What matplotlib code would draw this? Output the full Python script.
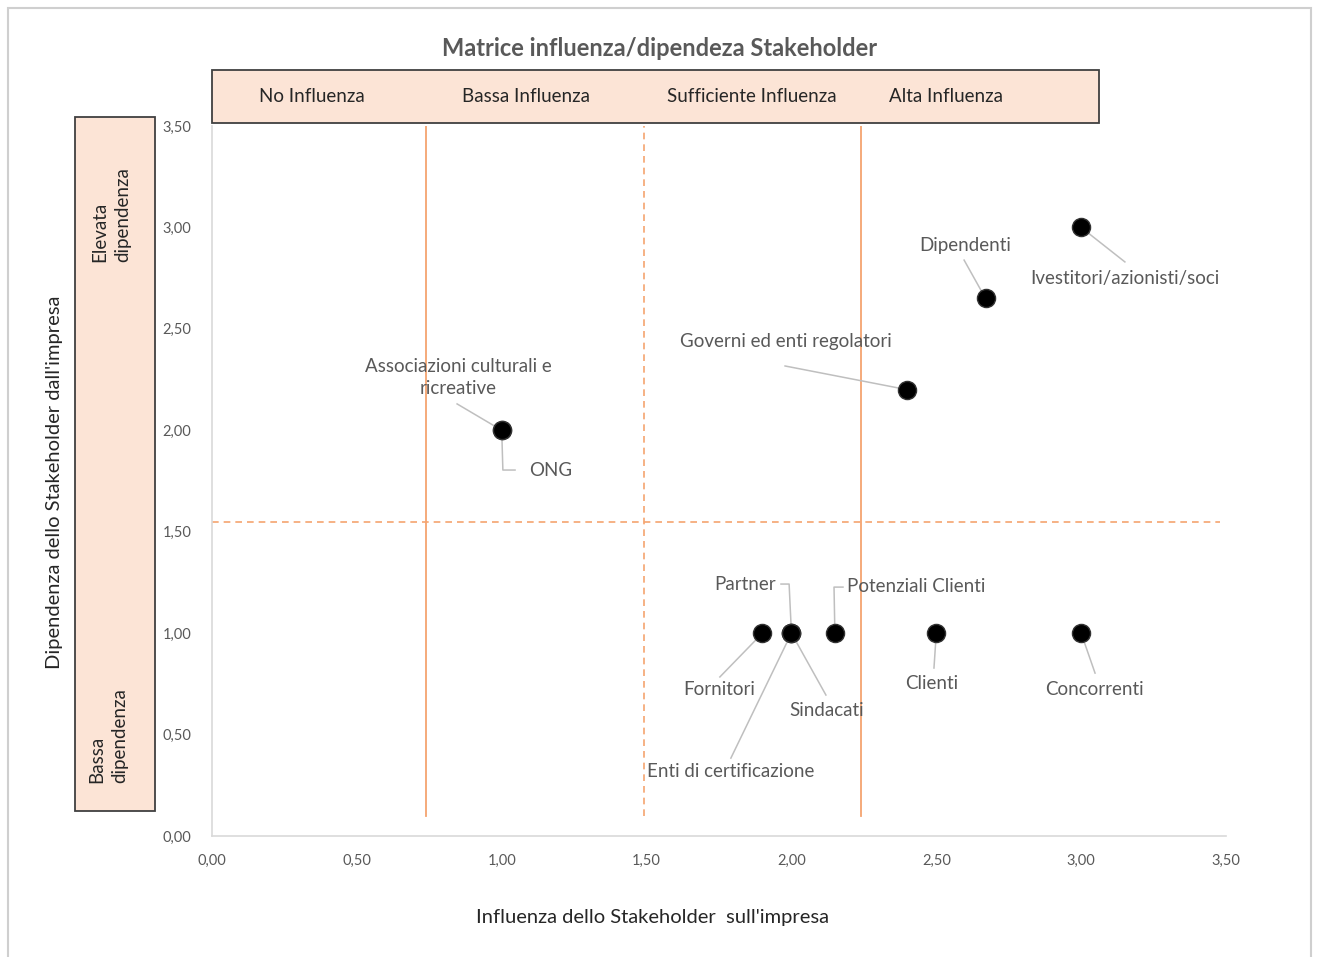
import matplotlib.pyplot as plt
from matplotlib.patches import Rectangle
from matplotlib.ticker import FuncFormatter, MultipleLocator

plt.rcParams['font.family'] = ['Lato', 'DejaVu Sans']

# stakeholder positions: influence (x) and dependence (y)
names = ["Associazioni culturali e\nricreative", "ONG", "Governi ed enti regolatori",
         "Dipendenti", "Ivestitori/azionisti/soci", "Fornitori", "Partner",
         "Sindacati", "Enti di certificazione", "Potenziali Clienti", "Clienti",
         "Concorrenti"]
influenza = [1.00, 1.00, 2.40, 2.67, 3.00, 1.90, 2.00, 2.00, 2.00, 2.15, 2.50, 3.00]
dipendenza = [2.00, 2.00, 2.20, 2.65, 3.00, 1.00, 1.00, 1.00, 1.00, 1.00, 1.00, 1.00]

# label placement (text position, leader start, optional elbow)
label_xy = [(0.85, 2.26), (1.17, 1.80), (1.98, 2.44), (2.60, 2.91), (3.15, 2.75),
            (1.75, 0.72), (1.84, 1.24), (2.12, 0.62), (1.79, 0.32), (2.43, 1.23),
            (2.485, 0.75), (3.045, 0.72)]
leader_xy = [[(0.846, 2.13)], [(1.046, 1.804), (1.004, 1.804)], [(1.978, 2.317)],
             [(2.596, 2.839)], [(3.151, 2.83)], [(1.753, 0.784)],
             [(1.964, 1.242), (1.992, 1.242)], [(2.119, 0.695)], [(1.791, 0.384)],
             [(2.178, 1.227), (2.147, 1.227)], [(2.492, 0.828)], [(3.048, 0.803)]]

col_labels = ["No Influenza", "Bassa Influenza", "Sufficiente Influenza", "Alta Influenza"]
col_label_px = [312, 526, 752, 946]
row_labels = ["Elevata\ndipendenza", "Bassa\ndipendenza"]

soglie_x_solid = [0.74, 2.24]
soglia_x_dash = 1.49
soglia_y_dash = 1.55

W, H = 1318, 957
orange = '#F5A46F'
gray_txt = '#595959'

fig = plt.figure(figsize=(W / 100, H / 100), dpi=100)

# outer frame
fig.patches.append(Rectangle((8 / W, -0.01), 1303 / W, 1 - 8 / H + 0.01, transform=fig.transFigure,
                             fill=False, edgecolor='#cfcfcf', linewidth=1.5, zorder=0))

ax = fig.add_axes([212 / W, 1 - 836 / H, 1014 / W, 710 / H])
ax.set_xlim(0, 3.5)
ax.set_ylim(0, 3.5)
for s in ['top', 'right']:
    ax.spines[s].set_visible(False)
for s in ['left', 'bottom']:
    ax.spines[s].set_color('#D9D9D9')
    ax.spines[s].set_linewidth(1.2)
ax.xaxis.set_major_locator(MultipleLocator(0.5))
ax.yaxis.set_major_locator(MultipleLocator(0.5))
fmt = FuncFormatter(lambda v, p: f"{v:.2f}".replace('.', ','))
ax.xaxis.set_major_formatter(fmt)
ax.yaxis.set_major_formatter(fmt)
ax.tick_params(length=0, labelsize=10.5, labelcolor=gray_txt)
ax.tick_params(axis='x', pad=13)
ax.tick_params(axis='y', pad=15)

# quadrant separators
for xv in soglie_x_solid:
    ax.plot([xv, xv], [0.1, 3.5], color=orange, lw=1.3, zorder=1)
ax.plot([soglia_x_dash, soglia_x_dash], [0.1, 3.5], color=orange, lw=1.2, ls=(0, (4, 3)), zorder=1)
ax.plot([0, 3.48], [soglia_y_dash, soglia_y_dash], color=orange, lw=1.2, ls=(0, (4, 3)), zorder=1)

# leader lines and labels
for name, x, y, (tx, ty), path in zip(names, influenza, dipendenza, label_xy, leader_xy):
    pts = path + [(x, y)]
    ax.plot([p[0] for p in pts], [p[1] for p in pts], color='#BFBFBF', lw=1.1, zorder=2)
    ax.text(tx, ty, name, ha='center', va='center', fontsize=13.5, color=gray_txt,
            linespacing=1.35, zorder=4)

ax.scatter(influenza, dipendenza, s=170, color='black', edgecolor='#333333', zorder=3)

# header band with influence classes
fig.patches.append(Rectangle((212 / W, 1 - 123 / H), 887 / W, 53 / H, transform=fig.transFigure,
                             facecolor='#FCE4D6', edgecolor='#404040', linewidth=1.3))
for lab, px in zip(col_labels, col_label_px):
    fig.text(px / W, 1 - 97 / H, lab, ha='center', va='center', fontsize=13.5, color='#262626')

# side band with dependence classes
fig.patches.append(Rectangle((75 / W, 1 - 811 / H), 80 / W, 694 / H, transform=fig.transFigure,
                             facecolor='#FCE4D6', edgecolor='#404040', linewidth=1.3))
fig.text(111 / W, 1 - 262 / H, row_labels[0], rotation=90, ha='center', va='bottom',
         multialignment='left', fontsize=13.5, color='#262626', linespacing=1.4)
fig.text(108 / W, 1 - 783 / H, row_labels[1], rotation=90, ha='center', va='bottom',
         multialignment='left', fontsize=13.5, color='#262626', linespacing=1.4)

fig.text(660 / W, 1 - 48 / H, "Matrice influenza/dipendeza Stakeholder", ha='center', va='center',
         fontsize=17, fontweight='bold', color=gray_txt)
fig.text(55 / W, 1 - 482 / H, "Dipendenza dello Stakeholder dall'impresa", rotation=90,
         ha='center', va='center', fontsize=14.5, color='#262626')
fig.text(653 / W, 1 - 917 / H, "Influenza dello Stakeholder  sull'impresa", ha='center', va='center',
         fontsize=14.5, color='#262626')

fig.savefig('out.png', dpi=100, facecolor='white')
